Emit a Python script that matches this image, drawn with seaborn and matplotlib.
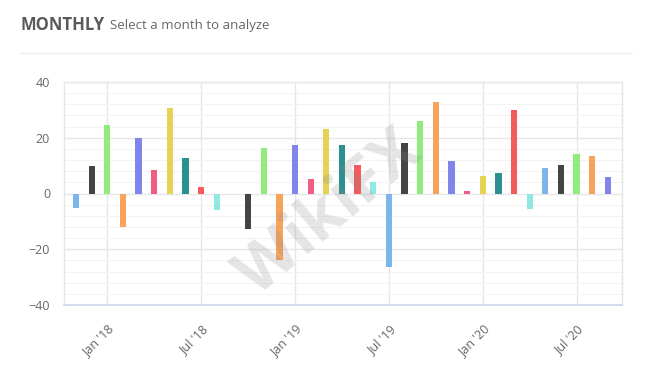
import matplotlib
matplotlib.use("Agg")
import matplotlib.pyplot as plt
import numpy as np
import pandas as pd
import seaborn as sns

# Monthly values, Nov 2017 .. Sep 2020 (Sep 2018 has no bar)
months = [
    "2017-11", "2017-12",
    "2018-01", "2018-02", "2018-03", "2018-04", "2018-05", "2018-06",
    "2018-07", "2018-08", "2018-09", "2018-10", "2018-11", "2018-12",
    "2019-01", "2019-02", "2019-03", "2019-04", "2019-05", "2019-06",
    "2019-07", "2019-08", "2019-09", "2019-10", "2019-11", "2019-12",
    "2020-01", "2020-02", "2020-03", "2020-04", "2020-05", "2020-06",
    "2020-07", "2020-08", "2020-09",
]
values = [
    -5.2, 9.7,
    24.6, -12.0, 20.0, 8.6, 30.7, 12.9,
    2.4, -5.9, 0.0, -12.9, 16.4, -23.7,
    17.5, 5.2, 23.2, 17.5, 10.4, 4.0,
    -26.5, 18.2, 26.0, 32.8, 11.5, 0.8,
    6.2, 7.2, 29.9, -5.6, 9.3, 10.4,
    14.0, 13.6, 5.8,
]
tick_months = ["2018-01", "2018-07", "2019-01", "2019-07", "2020-01", "2020-07"]
tick_labels = ["Jan '18", "Jul '18", "Jan '19", "Jul '19", "Jan '20", "Jul '20"]
base_colors = ["#7cb5ec", "#434348", "#90ed7d", "#f7a35c", "#8085e9",
               "#f15c80", "#e4d354", "#2b908f", "#f45b5b", "#91e8e1"]

df = pd.DataFrame({"month": months, "value": values})
palette = [base_colors[i % len(base_colors)] for i in range(len(months))]

sns.set_theme(style="white")
plt.rcParams["font.family"] = ["Open Sans", "DejaVu Sans"]

fig = plt.figure(figsize=(6.53, 3.87), dpi=100)
ax = fig.add_axes([0.098, 0.212, 0.8545, 0.576])

sns.barplot(data=df, x="month", y="value", hue="month", order=months,
            palette=palette, width=0.4, legend=False, saturation=1,
            linewidth=0, ax=ax)

ax.set_ylim(-40, 40)
ax.set_xlim(-0.77, len(months) - 0.1)
ax.set_yticks([-40, -20, 0, 20, 40])
ax.set_yticks(np.arange(-40, 41, 4), minor=True)
tick_pos = [months.index(m) for m in tick_months]
ax.set_xticks(tick_pos)
ax.set_xticklabels(tick_labels, rotation=45, ha="right", rotation_mode="anchor")

ax.set_axisbelow(True)
ax.grid(axis="y", which="major", color="#e6e6e6", linewidth=1)
ax.grid(axis="y", which="minor", color="#f3f3f3", linewidth=0.8)
ax.grid(axis="x", which="major", color="#e6e6e6", linewidth=1)

ax.tick_params(axis="both", which="both", length=0, colors="#666666",
               labelsize=9)
ax.tick_params(axis="y", pad=10)
ax.tick_params(axis="x", pad=13)
ax.set_xlabel("")
ax.set_ylabel("")

for side in ["top", "left", "right"]:
    ax.spines[side].set_color("#e6e6e6")
    ax.spines[side].set_linewidth(1)
ax.spines["bottom"].set_color("#ccd6eb")
ax.spines["bottom"].set_linewidth(1.2)

# faint watermark
fig.text(0.505, 0.445, "WikiFX", fontsize=46, fontweight="bold", color="#8a8a8a",
         alpha=0.22, rotation=40, ha="center", va="center")

# header
fig.text(20 / 653, 1 - 25 / 387, "MONTHLY", fontsize=12, fontweight="bold",
         color="#5a5a5a", va="center", ha="left")
fig.text(110 / 653, 1 - 26 / 387, "Select a month to analyze", fontsize=9.5,
         color="#666666", va="center", ha="left")
fig.add_artist(plt.Line2D([20 / 653, 632 / 653], [1 - 53 / 387, 1 - 53 / 387],
                          color="#ebebeb", linewidth=1))

fig.savefig("out.png", dpi=100, facecolor="white")
